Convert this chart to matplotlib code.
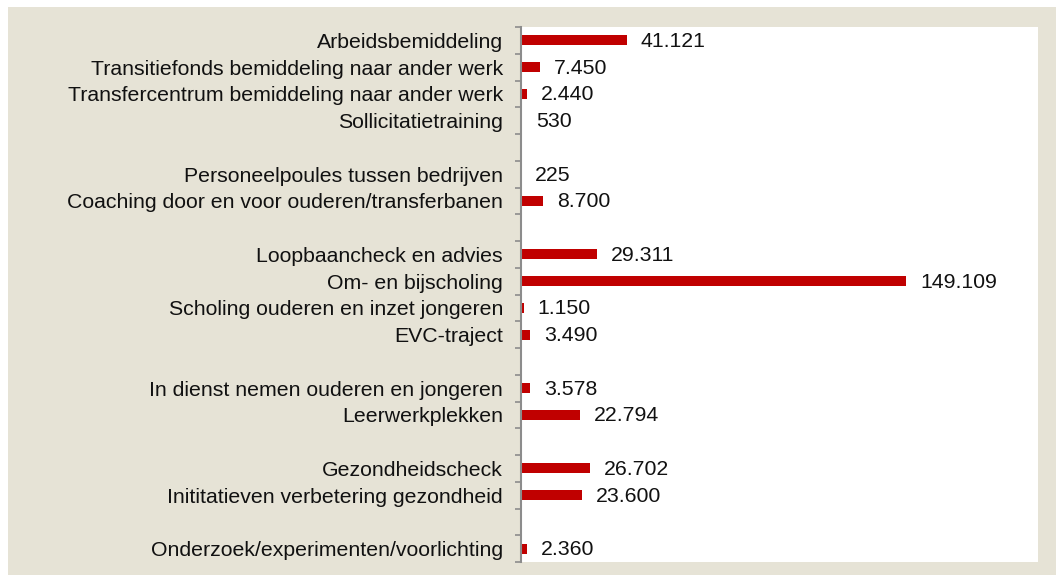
import numpy as np
import matplotlib
matplotlib.use("Agg")
import matplotlib.pyplot as plt
from matplotlib.patches import Rectangle

plt.rcParams['font.family'] = ['Liberation Sans', 'DejaVu Sans']

# categories top to bottom; empty strings are the spacer rows
categories = [
    "Arbeidsbemiddeling",
    "Transitiefonds bemiddeling naar ander werk",
    "Transfercentrum bemiddeling naar ander werk",
    "Sollicitatietraining",
    "",
    "Personeelpoules tussen bedrijven",
    "Coaching door en voor ouderen/transferbanen",
    "",
    "Loopbaancheck en advies",
    "Om- en bijscholing",
    "Scholing ouderen en inzet jongeren",
    "EVC-traject",
    "",
    "In dienst nemen ouderen en jongeren",
    "Leerwerkplekken",
    "",
    "Gezondheidscheck",
    "Inititatieven verbetering gezondheid",
    "",
    "Onderzoek/experimenten/voorlichting",
]
values = [41121, 7450, 2440, 530, None, 225, 8700, None,
          29311, 149109, 1150, 3490, None, 3578, 22794, None,
          26702, 23600, None, 2360]


def fmt(v):
    return f"{v:,}".replace(",", ".")


fig = plt.figure(figsize=(10.56, 5.75), dpi=100, facecolor="white")
fig.patches.append(Rectangle((8 / 1056, 0), 1 - 8 / 1056, 1 - 7 / 575,
                             transform=fig.transFigure, facecolor="#e6e3d6",
                             edgecolor="none", zorder=-10))

ax = fig.add_axes([521 / 1056, 1 - 562 / 575, (1038 - 521) / 1056, (562 - 27) / 575])
ax.set_facecolor("white")

n = len(categories)
y = np.arange(n)
vals = [v if v is not None else 0 for v in values]
ax.barh(y, vals, height=0.38, color="#c00000", edgecolor="none")

for yi, v in zip(y, values):
    if v is None:
        continue
    ax.text(v + 5300, yi + 0.04, fmt(v), va="center", ha="left", fontsize=15.3, color="#111111")

ax.set_xlim(0, 200000)
ax.set_ylim(n - 0.5, -0.5)
ax.set_yticks(y)
ax.set_yticklabels(categories, fontsize=15.3, color="#111111")
ax.set_yticks(np.arange(n + 1) - 0.5, minor=True)
ax.tick_params(axis="y", which="major", length=0, pad=13)
ax.tick_params(axis="y", which="minor", length=4, width=1.2, color="#8c8c8c")
ax.set_xticks([])
for s in ["top", "right", "bottom"]:
    ax.spines[s].set_visible(False)
ax.spines["left"].set_color("#8c8c8c")
ax.spines["left"].set_linewidth(1.5)

fig.savefig("out.png", dpi=100)
